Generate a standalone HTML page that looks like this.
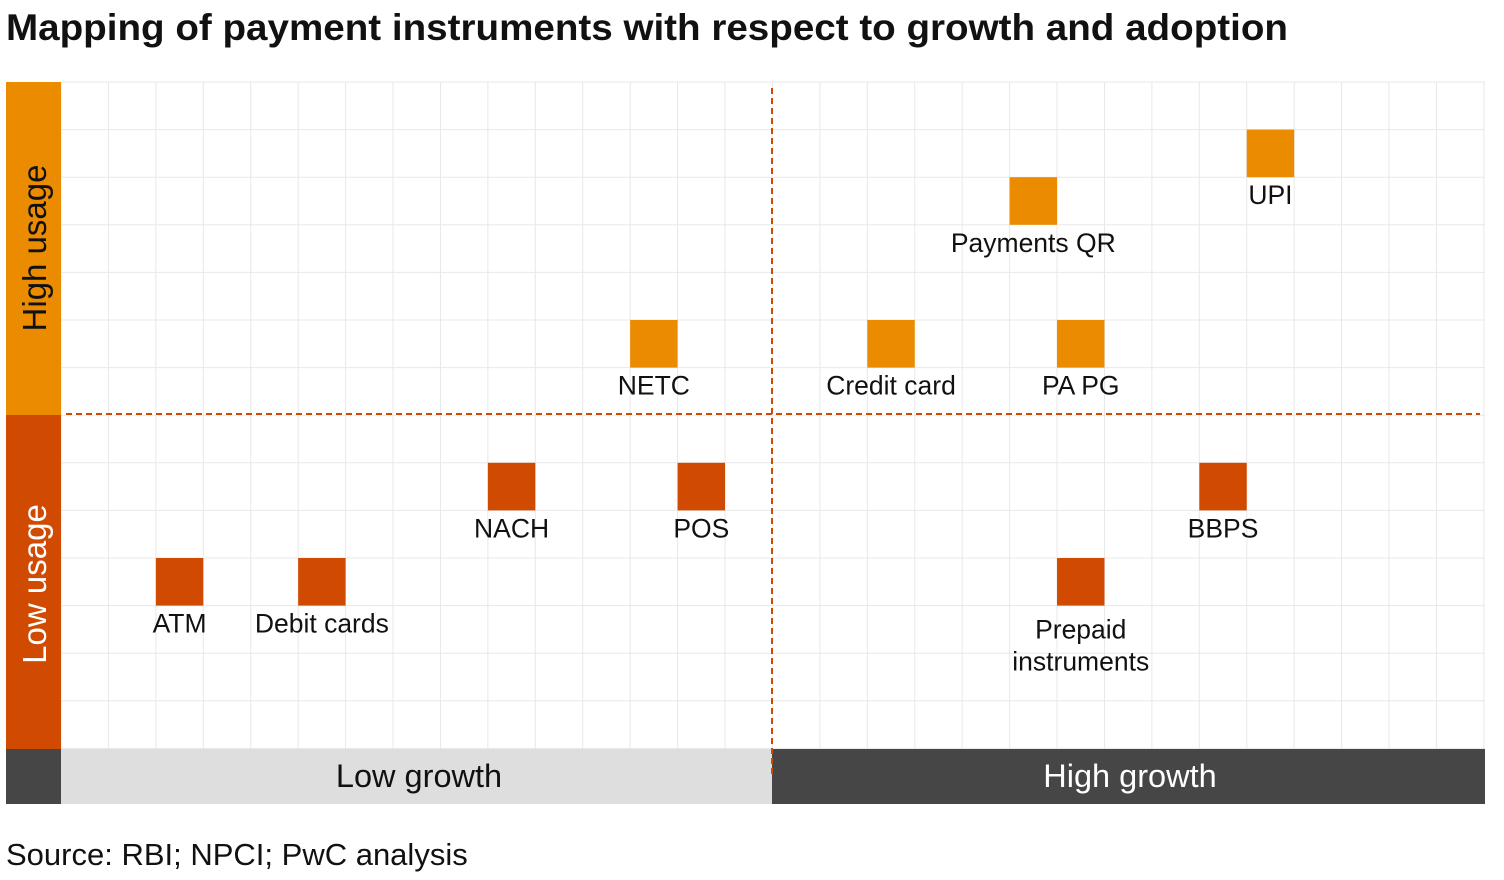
<!DOCTYPE html>
<html><head><meta charset="utf-8"><style>
body{margin:0;background:#fff;width:1504px;height:875px;overflow:hidden;font-family:"Liberation Sans",Arial,sans-serif}
</style></head><body>
<svg width="1504" height="875" xmlns="http://www.w3.org/2000/svg" font-family="Liberation Sans, Arial, sans-serif">
<text x="6" y="40" font-size="37" font-weight="bold" fill="#111" textLength="1282" lengthAdjust="spacingAndGlyphs">Mapping of payment instruments with respect to growth and adoption</text>
<g id="grid"></g>
<rect x="6" y="82" width="55" height="333" fill="#EB8C00"/>
<rect x="6" y="415" width="55" height="334" fill="#D04A02"/>
<text transform="translate(46,248) rotate(-90)" text-anchor="middle" font-size="33" fill="#111">High usage</text>
<text transform="translate(46,584) rotate(-90)" text-anchor="middle" font-size="33" fill="#fff">Low usage</text>
<rect x="6" y="749" width="55" height="55" fill="#464646"/>
<rect x="61" y="749" width="711" height="55" fill="#DEDEDE"/>
<rect x="772" y="749" width="713" height="55" fill="#464646"/>
<text x="419" y="787" text-anchor="middle" font-size="32.5" fill="#111">Low growth</text>
<text x="1130" y="787" text-anchor="middle" font-size="32.5" fill="#fff">High growth</text>
<line x1="772" y1="88" x2="772" y2="775" stroke="#D04A02" stroke-width="2" stroke-dasharray="6,4"/>
<line x1="66" y1="414" x2="1480" y2="414" stroke="#D04A02" stroke-width="2" stroke-dasharray="6,4"/>
<g id="marks"></g>
<text x="6" y="865" font-size="31" fill="#111">Source: RBI; NPCI; PwC analysis</text>
</svg>
<script>
const names=["UPI","Payments QR","NETC","Credit card","PA PG","NACH","POS","BBPS","ATM","Debit cards","Prepaid instruments"];
const growthCol=[25,20,12,17,21,9,13,24,2,5,21];
const usageRow=[1,2,5,5,5,8,8,8,10,10,10];
const NS="http://www.w3.org/2000/svg";
const x0=61,y0=82,cw=47.43,ch=47.6,nc=30,nr=14;
const xs=c=>x0+c*cw, ys=r=>y0+r*ch;
const grid=document.getElementById('grid');
for(let i=0;i<=nc;i++){const l=document.createElementNS(NS,'line');


l.setAttribute('x1',xs(i));l.setAttribute('x2',xs(i));l.setAttribute('y1',82);l.setAttribute('y2',749);l.setAttribute('stroke','#e8e8e8');grid.appendChild(l);}
for(let j=0;j<=nr;j++){const l=document.createElementNS(NS,'line');


l.setAttribute('x1',61);l.setAttribute('x2',1485);l.setAttribute('y1',ys(j));l.setAttribute('y2',ys(j));l.setAttribute('stroke','#e8e8e8');grid.appendChild(l);}
const marks=document.getElementById('marks');
names.forEach((n,i)=>{
 const r=document.createElementNS(NS,'rect');
 
 
 const x=xs(growthCol[i]),y=ys(usageRow[i]);
 r.setAttribute('x',x);r.setAttribute('y',y);r.setAttribute('width',cw);r.setAttribute('height',ch);
 r.setAttribute('fill',usageRow[i]<7?'#EB8C00':'#D04A02');marks.appendChild(r);
 const words=n==="Prepaid instruments"?["Prepaid","instruments"]:[n];
 words.forEach((w,k)=>{const t=document.createElementNS(NS,'text');
 
 
 t.setAttribute('x',x+cw/2);t.setAttribute('y',y+ch+(words.length>1?33:27)+k*32);
 t.setAttribute('text-anchor','middle');t.setAttribute('font-size','26.5');t.setAttribute('fill','#111');
 t.textContent=w;marks.appendChild(t);});
});
</script>
</body></html>
